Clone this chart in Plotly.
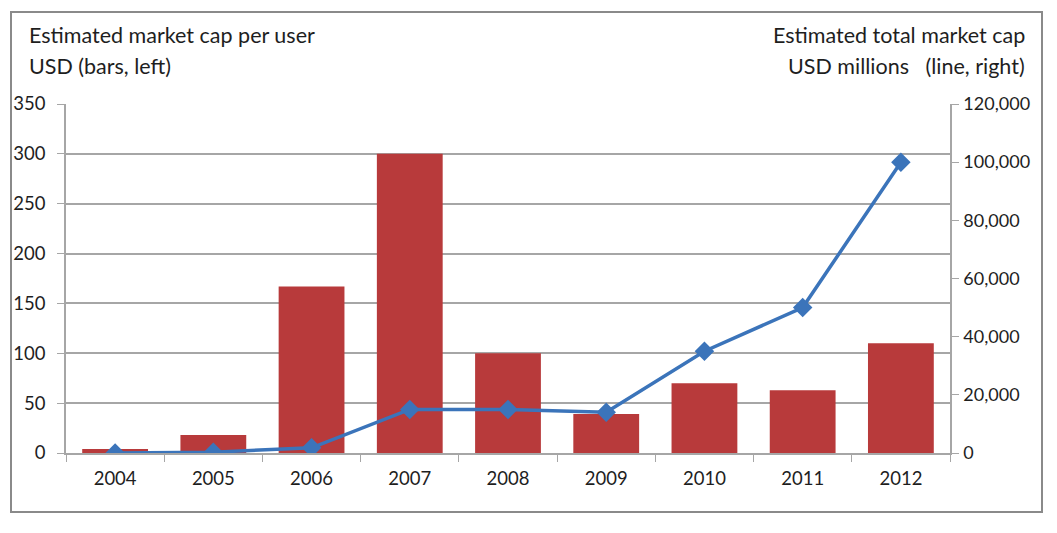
import plotly.graph_objects as go

years = ["2004", "2005", "2006", "2007", "2008", "2009", "2010", "2011", "2012"]
cap_per_user = [4, 18, 167, 300, 100, 39, 70, 63, 110]
total_cap = [0, 300, 1800, 15000, 15000, 14000, 35000, 50000, 100000]
left_ticks = [0, 50, 100, 150, 200, 250, 300, 350]
right_ticks = [0, 20000, 40000, 60000, 80000, 100000, 120000]

OFF = 8  # default page body margin
W, H = 1057 - 2 * OFF, 533 - 2 * OFF
L, R, T, B = 66 - OFF, 950 - OFF, 104 - OFF, 453 - OFF
pw, ph = R - L, B - T

def px(x):
    return (x - OFF - L) / pw

def py(y):
    return (B - (y - OFF)) / ph

font = "Lato, 'Open Sans', sans-serif"
grey = "#a6a6a6"

fig = go.Figure()
fig.add_trace(go.Bar(x=years, y=cap_per_user, marker=dict(color="#B83A3B", line=dict(width=0)),
                     yaxis="y", name="per user"))
fig.add_trace(go.Scatter(x=years, y=total_cap, yaxis="y2", mode="lines+markers",
                         line=dict(color="#3B74BA", width=3.5),
                         marker=dict(symbol="diamond", size=15, color="#3B74BA"),
                         name="total"))

fig.update_layout(
    width=W, height=H,
    margin=dict(l=L, r=W - R, t=T, b=H - B, pad=0, autoexpand=False),
    paper_bgcolor="white", plot_bgcolor="white",
    showlegend=False,
    bargap=0.33,
    font=dict(family=font, size=18.5, color="#1e1e1e"),
    xaxis=dict(type="category", showgrid=False, ticks="outside", tickson="boundaries",
               ticklen=7, tickcolor=grey, showline=True, linecolor=grey, linewidth=1.5,
               tickfont=dict(size=18.5), range=[-0.5, 8.5], ticklabelstandoff=8,
               automargin=False),
    yaxis=dict(range=[0, 350], tickvals=left_ticks, showgrid=True, gridcolor=grey, gridwidth=1.5,
               ticks="outside", ticklen=7, tickcolor=grey, showline=True, linecolor=grey, linewidth=1.5,
               zeroline=False, tickfont=dict(size=18.5), ticklabelstandoff=8, automargin=False),
    yaxis2=dict(range=[0, 120000], tickvals=right_ticks, overlaying="y", side="right",
                showgrid=False, ticks="outside", ticklen=7, tickcolor=grey, showline=True,
                linecolor=grey, linewidth=1.5, zeroline=False, tickformat=",d",
                tickfont=dict(size=18), ticklabelstandoff=1, automargin=False),
    shapes=[dict(type="rect", xref="paper", yref="paper",
                 x0=px(11), x1=px(1042), y0=py(512), y1=py(12),
                 line=dict(color="#8a8a8a", width=2), fillcolor="rgba(0,0,0,0)", layer="below")],
    annotations=[
        dict(xref="paper", yref="paper", x=px(27), y=py(35), xanchor="left", yanchor="middle",
             text="Estimated market cap per user", showarrow=False, font=dict(size=21.5)),
        dict(xref="paper", yref="paper", x=px(27), y=py(66), xanchor="left", yanchor="middle",
             text="USD (bars, left)", showarrow=False, font=dict(size=21.5)),
        dict(xref="paper", yref="paper", x=px(1027), y=py(35), xanchor="right", yanchor="middle",
             text="Estimated total market cap", showarrow=False, font=dict(size=21.5)),
        dict(xref="paper", yref="paper", x=px(1027), y=py(66), xanchor="right", yanchor="middle",
             text="USD millions &nbsp;&nbsp;(line, right)", showarrow=False, font=dict(size=21.5)),
    ],
)

fig.write_html("out.html")
